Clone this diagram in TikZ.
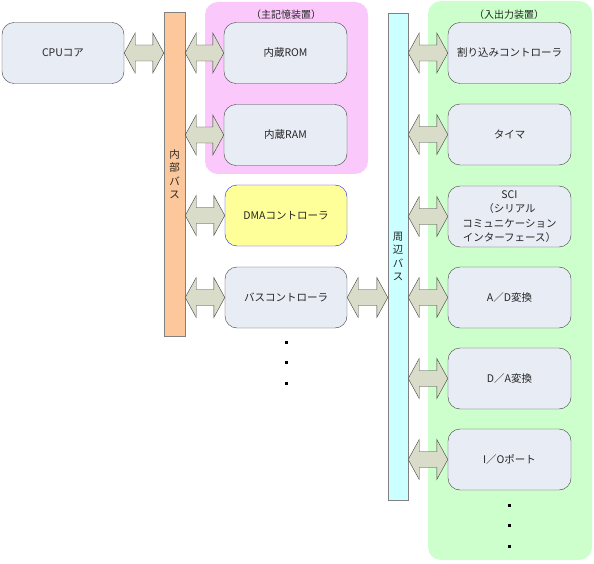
\documentclass[tikz,border=0pt]{standalone}
\usepackage{fontspec}
\setmainfont{Noto Sans CJK JP}
\usetikzlibrary{calc}
\definecolor{boxfill}{HTML}{E8ECF4}
\definecolor{boxline}{HTML}{404040}
\definecolor{txtcol}{HTML}{262626}
\definecolor{pinkreg}{HTML}{FBC8FB}
\definecolor{greenreg}{HTML}{CCFFCC}
\definecolor{ibuscol}{HTML}{FCC89B}
\definecolor{pbuscol}{HTML}{CCFFFF}
\definecolor{dmafill}{HTML}{FFFF99}
\definecolor{dmaline}{HTML}{2020FF}
\definecolor{arrfill}{HTML}{D9DCC9}
\definecolor{busline}{HTML}{808080}
\tikzset{
  unitbox/.style={draw=boxline, fill=boxfill, rounded corners=12pt, minimum width=123pt, minimum height=61pt, inner sep=0pt, align=center, text=txtcol, font=\fontsize{10.5}{14.5}\selectfont},
  region/.style={rounded corners=13pt, draw=none},
  busbar/.style={draw=busline, inner sep=0pt, align=center, text=txtcol, font=\fontsize{10.5}{13.5}\selectfont},
  regtitle/.style={text=txtcol, font=\fontsize{10}{12}\selectfont, inner sep=0pt},
  fatarrow/.style={draw=boxline, fill=arrfill, line join=miter},
  dotmark/.style={fill=black, inner sep=0pt, minimum size=3pt, draw=none}
}
\newcommand\dblarrow[2]{%
  \draw[fatarrow] let \p1=(#1), \p2=(#2) in
    (\x1,\y1) -- (\x1+11pt,\y1+20pt) -- (\x1+11pt,\y1+8pt) -- (\x2-11pt,\y1+8pt) -- (\x2-11pt,\y1+20pt)
    -- (\x2,\y1) -- (\x2-11pt,\y1-20pt) -- (\x2-11pt,\y1-8pt) -- (\x1+11pt,\y1-8pt) -- (\x1+11pt,\y1-20pt) -- cycle;}
\begin{document}
\begin{tikzpicture}[x=1pt,y=-1pt]
\useasboundingbox (0,0) rectangle (594,564);
% regions
\fill[region, fill=pinkreg] (205,2) rectangle (368,174);
\fill[region, fill=greenreg] (428,1) rectangle (592,560);
\node[regtitle] (memtitle) at (286,15) {（主記憶装置）};
\node[regtitle] (iotitle) at (509,15) {（入出力装置）};
% buses
\node[busbar, fill=ibuscol, minimum width=21pt, minimum height=324pt] (ibus) at (174.5,174) {内\\部\\バ\\ス};
\node[busbar, fill=pbuscol, minimum width=20pt, minimum height=487pt] (pbus) at (398,256.5) {周\\辺\\バ\\ス};
% boxes
\node[unitbox, minimum width=122pt] (cpu) at (63,53) {CPUコア};
\node[unitbox] (rom) at (285.5,53) {内蔵ROM};
\node[unitbox] (ram) at (285.5,135) {内蔵RAM};
\node[unitbox, fill=dmafill, draw=dmaline, minimum width=122pt] (dma) at (286,215.5) {DMAコントローラ};
\node[unitbox, minimum width=122pt] (bctl) at (286,297.5) {バスコントローラ};
\node[unitbox] (irq) at (509.5,53) {割り込みコントローラ};
\node[unitbox] (tmr) at (509.5,134.5) {タイマ};
\node[unitbox] (sci) at (509.5,216.5) {SCI\\（シリアル\\コミュニケーション\\インターフェース）};
\node[unitbox] (adc) at (509.5,297.5) {A／D変換};
\node[unitbox] (dac) at (509.5,378.5) {D／A変換};
\node[unitbox] (iop) at (509.5,459.5) {I／Oポート};
% arrows
\dblarrow{cpu.east}{ibus.west |- cpu.east}
\dblarrow{ibus.east |- rom.west}{rom.west}
\dblarrow{ibus.east |- ram.west}{ram.west}
\dblarrow{ibus.east |- dma.west}{dma.west}
\dblarrow{ibus.east |- bctl.west}{bctl.west}
\dblarrow{bctl.east}{pbus.west |- bctl.east}
\dblarrow{pbus.east |- irq.west}{irq.west}
\dblarrow{pbus.east |- tmr.west}{tmr.west}
\dblarrow{pbus.east |- sci.west}{sci.west}
\dblarrow{pbus.east |- adc.west}{adc.west}
\dblarrow{pbus.east |- dac.west}{dac.west}
\dblarrow{pbus.east |- iop.west}{iop.west}
% dots
\node[dotmark] (d1) at (286,342) {};
\node[dotmark] (d2) at (286,362) {};
\node[dotmark] (d3) at (286,383) {};
\node[dotmark] (d4) at (509,505) {};
\node[dotmark] (d5) at (509,525) {};
\node[dotmark] (d6) at (509,546) {};
\end{tikzpicture}
\end{document}
